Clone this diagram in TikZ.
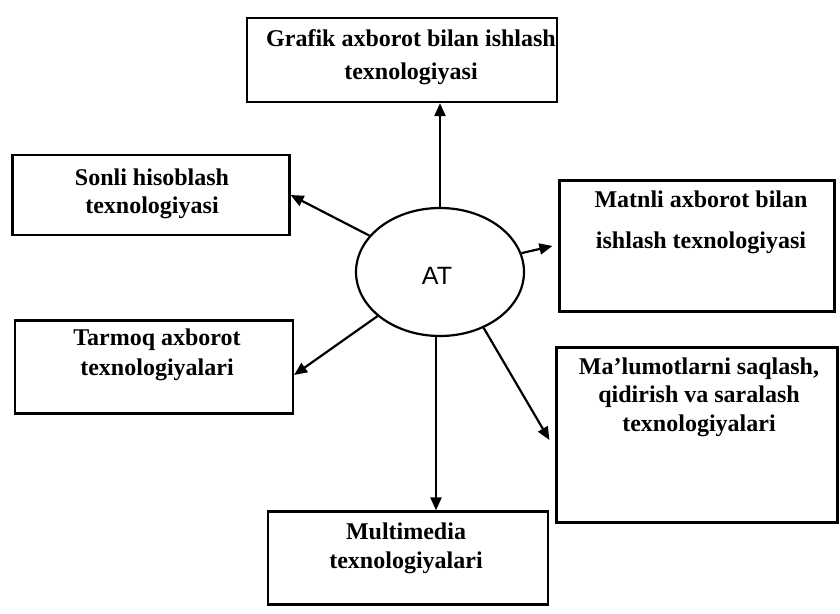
\documentclass[tikz,border=0pt]{standalone}
\usepackage{fontspec}
\setmainfont{Liberation Serif}
\newfontfamily\atfont{Liberation Sans}
\usetikzlibrary{arrows.meta,shapes.geometric}
\tikzset{
  box/.style={draw, line width=1.1pt, rectangle, inner sep=0pt},
  lbl/.style={align=center, font=\bfseries\fontsize{12}{14}\selectfont, inner sep=0pt},
  arr/.style={line width=1.1pt, -{Triangle[length=6.5pt,width=5.5pt]}},
}
\begin{document}
\begin{tikzpicture}[x=0.5pt,y=-0.5pt]
\useasboundingbox (0,0) rectangle (840,614);
% boxes
\node[box, minimum width=155pt, minimum height=42pt]   (G)  at (402,60)  {};
\node[box, minimum width=138.5pt, minimum height=40pt] (S)  at (151,195) {};
\node[box, minimum width=139pt, minimum height=46.5pt] (T)  at (154,367) {};
\node[box, minimum width=137.5pt, minimum height=65.5pt] (M) at (697,246) {};
\node[box, minimum width=140.5pt, minimum height=87.5pt] (D) at (697,435) {};
\node[box, minimum width=140pt, minimum height=46.5pt] (MM) at (408,558) {};
% centre
\node[draw, line width=1.1pt, ellipse, minimum width=84pt, minimum height=64pt, inner sep=0pt] (AT) at (440,272) {};
\node[font=\atfont\fontsize{12.5}{14}\selectfont, inner sep=0pt] (ATt) at (437,276) {AT};
% texts
\node[lbl, font=\bfseries\fontsize{12}{16.5}\selectfont] (Gt) at (411,57) {Grafik axborot bilan ishlash\\texnologiyasi};
\node[lbl, font=\bfseries\fontsize{12}{14}\selectfont] (St) at (152,194) {Sonli hisoblash\\texnologiyasi};
\node[lbl, font=\bfseries\fontsize{12}{15}\selectfont] (Tt) at (157,355) {Tarmoq axborot\\texnologiyalari};
\node[lbl, font=\bfseries\fontsize{12}{20.5}\selectfont] (Mt) at (701,222) {Matnli axborot bilan\\ishlash texnologiyasi};
\node[lbl, font=\bfseries\fontsize{12}{14.3}\selectfont] (Dt) at (699,397) {Ma’lumotlarni saqlash,\\qidirish va saralash\\texnologiyalari};
\node[lbl, font=\bfseries\fontsize{12}{14.5}\selectfont] (MMt) at (406,548) {Multimedia\\texnologiyalari};
% connectors
\draw[arr] (AT.north) -- (AT.north |- G.south);
\draw[arr] (AT) -- (S.east);
\draw[arr] (AT) -- ([yshift=-4pt]T.east);
\draw[arr] (AT) -- ([xshift=-3pt]M.west);
\draw[arr] (AT.-52) -- ([xshift=-3pt,yshift=-2.5pt]D.west);
\draw[arr] ([xshift=-2pt]AT.south) -- ([xshift=-2pt]AT.south |- MM.north);
\end{tikzpicture}
\end{document}
